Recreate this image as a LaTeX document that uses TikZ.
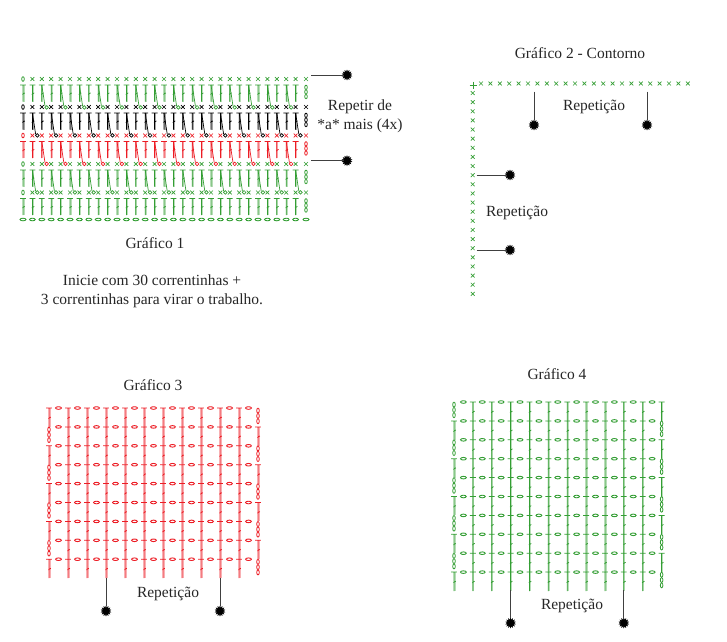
\documentclass[tikz,border=0pt]{standalone}
\usepackage{fontspec}
\setmainfont{Liberation Serif}
\usetikzlibrary{shapes.geometric}
\definecolor{chgreen}{RGB}{52,158,52}
\definecolor{chred}{RGB}{236,28,36}
\tikzstyle{lbl}=[font=\fontsize{15.5}{19}\selectfont, inner sep=0pt, text=black!85, align=center]
\tikzstyle{burst}=[star, star points=14, star point ratio=1.6, fill=black, draw=black,
    line width=0.3pt, inner sep=0pt, minimum size=10pt]
\tikzstyle{leader}=[draw=black!75, line width=0.8pt]
\tikzstyle{spike}=[line width=0.7pt]
\tikzset{
  pics/scx/.style={code={\draw[line width=0.65pt] (-1.9,-1.9) -- (1.9,1.9) (-1.9,1.9) -- (1.9,-1.9);}},
  pics/chh/.style={code={\draw[line width=0.9pt] (0,0) ellipse (2.9 and 1.3);}},
  pics/cho/.style={code={\draw[line width=0.8pt] (0,0) ellipse (1.3 and 2.3);}},
  pics/chv/.style={code={\foreach \ov in {0.14,0.42,0.70}
      \draw[line width=0.8pt] (0,\ov*#1) ellipse (1.3 and 0.13*#1);}},
  pics/dcst/.style={code={
    \draw[line width=2pt, draw opacity=0.35] (0.6,0) -- (0.6,#1);
    \draw[line width=0.75pt] (-2.9,0) -- (2.9,0) (0,0) -- (0,#1)
      (-0.6,0.5*#1+1.2) -- (1.8,0.5*#1-0.4);}}
}

\begin{document}
\begin{tikzpicture}[x=1pt,y=-1pt]
    \useasboundingbox (0,0) rectangle (727,641);
    % Grafico 1
    \foreach \yy/\cc in {79/chgreen,107/black,135.5/chred,164/chgreen,192.5/chgreen}{
      \pic[color=\cc] at (23,\yy) {cho};
      \foreach \k [evaluate=\k as \xx using 23+9.4*\k] in {1,...,29}
        \pic[color=\cc] at (\xx,\yy) {scx};
      \pic[color=\cc] at (306,\yy) {scx};
      \foreach \k [evaluate=\k as \xx using 23+9.4*\k] in {0,...,29}
        \pic[color=\cc] at (\xx,\yy+6) {dcst=16.5};
      \pic[color=\cc] at (306,\yy+6) {chv=16.5};
    }
    \foreach \k [evaluate=\k as \xx using 23+9.4*\k] in {2,4,...,28}{
      \draw[chgreen, spike] (\xx,85) -- ++(3.2,21) ++(1.7,1.4) circle (1.8);
      \draw[chred, spike] (\xx,141.5) -- ++(3.2,21) ++(1.7,1.4) circle (1.8);
    }
    \foreach \k [evaluate=\k as \xx using 23+9.4*\k] in {1,3,...,29}{
      \draw[black, spike] (\xx,113) -- ++(3.2,21) ++(1.7,1.4) circle (1.8);
      \draw[chgreen, spike] (\xx,170) -- ++(3.2,21) ++(1.7,1.4) circle (1.8);
    }
    \foreach \k [evaluate=\k as \xx using 23+9.4*\k] in {0,...,29}
      \pic[color=chgreen] at (\xx,219.5) {chh};
    \pic[color=chgreen] at (306,219.5) {chh};
    \coordinate (r1a) at (311,75);
    \coordinate (r1b) at (311,160.7);
    \node[burst] (s1a) at (347,75) {};
    \node[burst] (s1b) at (347,160.7) {};
    \draw[leader] (r1a) -- (s1a);
    \draw[leader] (r1b) -- (s1b);
    \node[lbl] (rep1) at (360,116) {Repetir de\\*a* mais (4x)};
    \node[lbl] (tit1) at (155,243) {Gráfico 1};
    \node[lbl] (note1) at (152,291) {Inicie com 30 correntinhas +\\3 correntinhas para virar o trabalho.};

    % Grafico 2
    \node[lbl] (tit2) at (580,53) {Gráfico 2 - Contorno};
    \draw[chgreen, line width=0.65pt] (469.5,85) -- (476.5,85) (473,81.5) -- (473,88.5);
    \foreach \k [evaluate=\k as \xx using 481+9.4*\k] in {0,...,22}
      \pic[color=chgreen] at (\xx,83.5) {scx};
    \foreach \k [evaluate=\k as \yy using 93+9.13*\k] in {0,...,22}
      \pic[color=chgreen] at (472.7,\yy) {scx};
    \coordinate (r2a) at (534,91.7);
    \coordinate (r2b) at (647,91.7);
    \coordinate (r2c) at (476.7,175);
    \coordinate (r2d) at (476.7,250);
    \node[burst] (s2a) at (534,125) {};
    \node[burst] (s2b) at (647,125) {};
    \node[burst] (s2c) at (510,175) {};
    \node[burst] (s2d) at (510,250) {};
    \foreach \a in {a,b,c,d}
      \draw[leader] (r2\a) -- (s2\a);
    \node[lbl] (rep2a) at (594,107) {Repetição};
    \node[lbl] (rep2b) at (517,213) {Repetição};

    % Grafico 3
    \node[lbl] (tit3) at (153,385) {Gráfico 3};
    \foreach \j [evaluate=\j as \yy using 408+18.9*\j] in {0,...,8}{
      \foreach \k [evaluate=\k as \xx using 49+19*\k] in {0,...,10}
        \pic[color=chred] at (\xx+9.5,\yy) {chh};
      \foreach \k [evaluate=\k as \xx using 49+19*\k] in {1,...,10}
        \pic[color=chred] at (\xx,\yy) {dcst=18.9};
      \ifodd\j
        \pic[color=chred] at (49,\yy) {chv=18.9};
        \pic[color=chred] at (258,\yy) {dcst=18.9};
      \else
        \pic[color=chred] at (49,\yy) {dcst=18.9};
        \pic[color=chred] at (258,\yy) {chv=18.9};
      \fi
    }
    \coordinate (r3a) at (106,578);
    \coordinate (r3b) at (220,578);
    \node[burst] (s3a) at (106,611) {};
    \node[burst] (s3b) at (220,611) {};
    \draw[leader] (r3a) -- (s3a);
    \draw[leader] (r3b) -- (s3b);
    \node[lbl] (rep3) at (168,594) {Repetição};

    % Grafico 4
    \node[lbl] (tit4) at (557,374) {Gráfico 4};
    \foreach \j [evaluate=\j as \yy using 402+18.9*\j] in {0,...,9}{
      \foreach \k [evaluate=\k as \xx using 454+18.87*\k] in {0,...,10}
        \pic[color=chgreen] at (\xx+9.4,\yy) {chh};
      \foreach \k [evaluate=\k as \xx using 454+18.87*\k] in {1,...,10}
        \pic[color=chgreen] at (\xx,\yy) {dcst=18.9};
      \ifodd\j
        \pic[color=chgreen] at (454,\yy) {dcst=18.9};
        \pic[color=chgreen] at (661.6,\yy) {chv=18.9};
      \else
        \pic[color=chgreen] at (454,\yy) {chv=18.9};
        \pic[color=chgreen] at (661.6,\yy) {dcst=18.9};
      \fi
    }
    \coordinate (r4a) at (510.6,590);
    \coordinate (r4b) at (623.8,590);
    \node[burst] (s4a) at (510.6,623) {};
    \node[burst] (s4b) at (623.8,623) {};
    \draw[leader] (r4a) -- (s4a);
    \draw[leader] (r4b) -- (s4b);
    \node[lbl] (rep4) at (572,606) {Repetição};
\end{tikzpicture}
\end{document}
